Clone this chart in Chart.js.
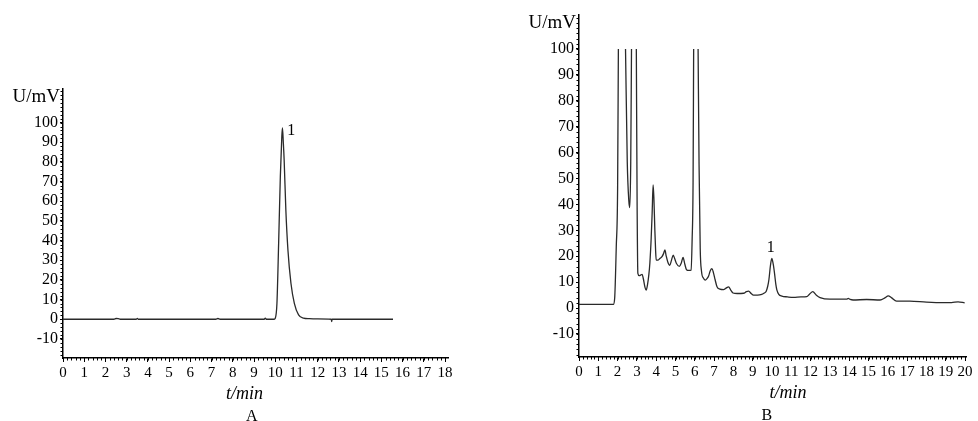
<!DOCTYPE html>
<html>
<head>
<meta charset="utf-8">
<script src="https://cdn.jsdelivr.net/npm/chart.js@4.4.1/dist/chart.umd.min.js"></script>
<style>
    html, body { margin: 0; padding: 0; background: #fff; }
    .wrap { position: relative; width: 978px; height: 421px; overflow: hidden; }
    canvas { position: absolute; top: 0; }
    #chartA { left: 0; }
    #chartB { left: 489px; }
</style>
</head>
<body>
<div class="wrap">
    <canvas id="chartA" width="489" height="421"></canvas>
    <canvas id="chartB" width="489" height="421"></canvas>
</div>
<script>
// Chromatogram A (standard)
const timeA = [0, 2.4, 2.5, 2.6, 2.7, 3.45, 3.5, 3.55, 7.2, 7.3, 7.4, 9.48, 9.53, 9.58,
    9.95, 10.0, 10.08, 10.16, 10.24, 10.31, 10.34, 10.38, 10.42, 10.5, 10.6, 10.74,
    10.9, 11.1, 11.33, 11.6, 12.0, 12.64, 12.66, 12.68, 15.55];
const signalA = [0, 0, 0.4, 0.3, 0, 0, 0.4, 0, 0, 0.4, 0, 0, 0.6, 0,
    0, 0.5, 8, 38.6, 72.5, 93, 97.3, 90, 81, 55.6, 35, 18.3,
    8.1, 2.2, 0.6, 0.3, 0.2, 0, -1.2, 0, 0];

// Chromatogram B (sample); null = signal off scale above 100
const timeB = [0, 1.78, 1.85, 1.93, 2.0, 2.04, 2.2, 2.41, 2.5, 2.58, 2.63, 2.68, 2.72, 2.85,
    2.97, 3.01, 3.05, 3.12, 3.19, 3.27, 3.33, 3.42, 3.48, 3.55, 3.62, 3.67, 3.74, 3.79,
    3.84, 3.88, 3.93, 3.97, 4.0, 4.1, 4.19, 4.3, 4.38, 4.45, 4.52, 4.6, 4.7, 4.79, 4.88,
    4.96, 5.05, 5.2, 5.3, 5.39, 5.48, 5.57, 5.7, 5.81, 5.86, 5.91, 5.94, 6.05, 6.17, 6.22,
    6.28, 6.35, 6.45, 6.55, 6.65, 6.72, 6.8, 6.89, 6.97, 7.05, 7.15, 7.3, 7.49, 7.62, 7.75,
    7.87, 7.98, 8.2, 8.53, 8.67, 8.79, 8.92, 9.04, 9.25, 9.47, 9.6, 9.7, 9.78, 9.84, 9.92,
    9.99, 10.06, 10.13, 10.2, 10.25, 10.35, 10.51, 10.8, 11.11, 11.5, 11.8, 11.95, 12.11,
    12.3, 12.49, 13.0, 13.5, 13.87, 13.95, 14.05, 14.2, 14.9, 15.6, 15.85, 16.02, 16.2,
    16.45, 17.14, 18.0, 18.86, 19.3, 19.64, 19.98];
const signalB = [1.4, 1.4, 4, 23.5, 46, 100, null, 100, 56.5, 41.5, 38.8, 56, 100, null,
    100, 41, 13.4, 12.5, 12.7, 13, 11.4, 8, 6.9, 9, 13, 17.2, 27, 36.7,
    47.5, 42.5, 30, 22, 18.5, 18.5, 19.1, 19.8, 21, 22.4, 20, 17.8, 16.5, 18.4, 20.4,
    19, 17.2, 16.1, 17.4, 19.5, 17, 14.8, 14.5, 14.6, 26, 48.5, 100, null, 100, 55.5,
    23, 14, 11.5, 10.8, 11.5, 12.5, 14.4, 15.2, 13.5, 11, 8.2, 7.3, 7.1, 7.7, 8.2,
    6.8, 5.8, 5.6, 5.7, 6.3, 6.5, 5.6, 5, 5, 5.3, 5.8, 6.5, 8.5, 11, 16.5,
    19.2, 17, 13.4, 9, 7, 5.3, 4.6, 4.3, 4.1, 4.3, 4.4, 5.4, 6.3,
    4.9, 4, 3.4, 3.4, 3.4, 3.7, 3.3, 3.1, 3.3, 3.1, 3.9, 4.7, 3.9,
    2.7, 2.7, 2.3, 2.1, 2.1, 2.4, 2.0];

// Tick labels
const xTicksA = [0, 1, 2, 3, 4, 5, 6, 7, 8, 9, 10, 11, 12, 13, 14, 15, 16, 17, 18];
const xTicksB = [0, 1, 2, 3, 4, 5, 6, 7, 8, 9, 10, 11, 12, 13, 14, 15, 16, 17, 18, 19, 20];
const yTicks = [-10, 0, 10, 20, 30, 40, 50, 60, 70, 80, 90, 100];

const serif = '"Liberation Serif", "Times New Roman", serif';
Chart.defaults.font.family = serif;
Chart.defaults.color = '#000';

// small ticks between the labelled ones
const minorTicks = {
    id: 'minorTicks',
    afterDraw(chart, args, opts) {
        const { ctx, chartArea, scales: { x, y } } = chart;
        ctx.save();
        ctx.strokeStyle = '#000';
        ctx.lineWidth = 1;
        ctx.beginPath();
        for (let i = Math.ceil(x.min / opts.xStep); i * opts.xStep <= x.max + 1e-9; i++) {
            const px = Math.round(x.getPixelForValue(i * opts.xStep)) + 0.5;
            ctx.moveTo(px, chartArea.bottom);
            ctx.lineTo(px, chartArea.bottom + 2.5);
        }
        for (let i = Math.ceil(y.min / opts.yStep); i * opts.yStep <= y.max; i++) {
            const py = Math.round(y.getPixelForValue(i * opts.yStep)) + 0.5;
            ctx.moveTo(chartArea.left - 2.5, py);
            ctx.lineTo(chartArea.left, py);
        }
        ctx.stroke();
        ctx.restore();
    }
};

// axis names, panel letter and peak number
const chartText = {
    id: 'chartText',
    afterDraw(chart, args, opts) {
        const { ctx, chartArea, scales: { x, y } } = chart;
        ctx.save();
        ctx.fillStyle = '#000';
        ctx.textBaseline = 'alphabetic';

        ctx.font = '19px ' + serif;
        ctx.textAlign = 'right';
        ctx.fillText('U/mV', chartArea.left - 3, chartArea.top + 13);

        ctx.textAlign = 'center';
        ctx.font = 'italic 18px ' + serif;
        ctx.fillText('t/min', x.getPixelForValue(opts.titleAt), chartArea.bottom + 41);

        ctx.font = '16px ' + serif;
        ctx.fillText(opts.panel, x.getPixelForValue(opts.panelAt), chartArea.bottom + 63);

        ctx.fillText('1', x.getPixelForValue(opts.peak.x), y.getPixelForValue(opts.peak.y));
        ctx.restore();
    }
};

function makeChart(id, times, values, xTicks, xMax, yMin, yMax, pad, text) {
    const points = times.map((t, i) => ({ x: t, y: values[i] }));
    return new Chart(document.getElementById(id), {
        type: 'line',
        data: {
            datasets: [{
                data: points,
                borderColor: '#2a2a2a',
                borderWidth: 1.3,
                pointRadius: 0,
                cubicInterpolationMode: 'monotone',
                spanGaps: false
            }]
        },
        options: {
            responsive: false,
            animation: false,
            events: [],
            layout: { padding: pad },
            plugins: {
                legend: { display: false },
                tooltip: { enabled: false },
                minorTicks: { xStep: 0.2, yStep: 2 },
                chartText: text
            },
            scales: {
                x: {
                    type: 'linear',
                    min: 0,
                    max: xMax,
                    bounds: 'data',
                    afterBuildTicks: function(scale) {
                        scale.ticks = xTicks.map(v => ({ value: v }));
                    },
                    afterFit: function(scale) { scale.height = 30; },
                    grid: { drawOnChartArea: false, drawTicks: true, tickLength: 4, color: '#000' },
                    border: { display: true, color: '#000', width: 1.5 },
                    ticks: { font: { size: 15 }, padding: 2, maxRotation: 0, autoSkip: false, color: '#000' }
                },
                y: {
                    type: 'linear',
                    min: yMin,
                    max: yMax,
                    bounds: 'data',
                    afterBuildTicks: function(scale) {
                        scale.ticks = yTicks.map(v => ({ value: v }));
                    },
                    afterFit: function(scale) { scale.width = 63; },
                    grid: { drawOnChartArea: false, drawTicks: true, tickLength: 3, color: '#000' },
                    border: { display: true, color: '#000', width: 1.5 },
                    ticks: { font: { size: 16 }, padding: 2, autoSkip: false, color: '#000' }
                }
            }
        },
        plugins: [minorTicks, chartText]
    });
}

makeChart('chartA', timeA, signalA, xTicksA, 18.14, -19.7, 117.1,
    { left: 0, right: 41, top: 89, bottom: 33 },
    { panel: 'A', titleAt: 8.55, panelAt: 8.89, peak: { x: 10.76, y: 93.7 } });

makeChart('chartB', timeB, signalB, xTicksB, 20.05, -18.9, 113.1,
    { left: 27, right: 12, top: 15, bottom: 34 },
    { panel: 'B', titleAt: 10.83, panelAt: 9.73, peak: { x: 9.93, y: 21.7 } });
</script>
</body>
</html>
